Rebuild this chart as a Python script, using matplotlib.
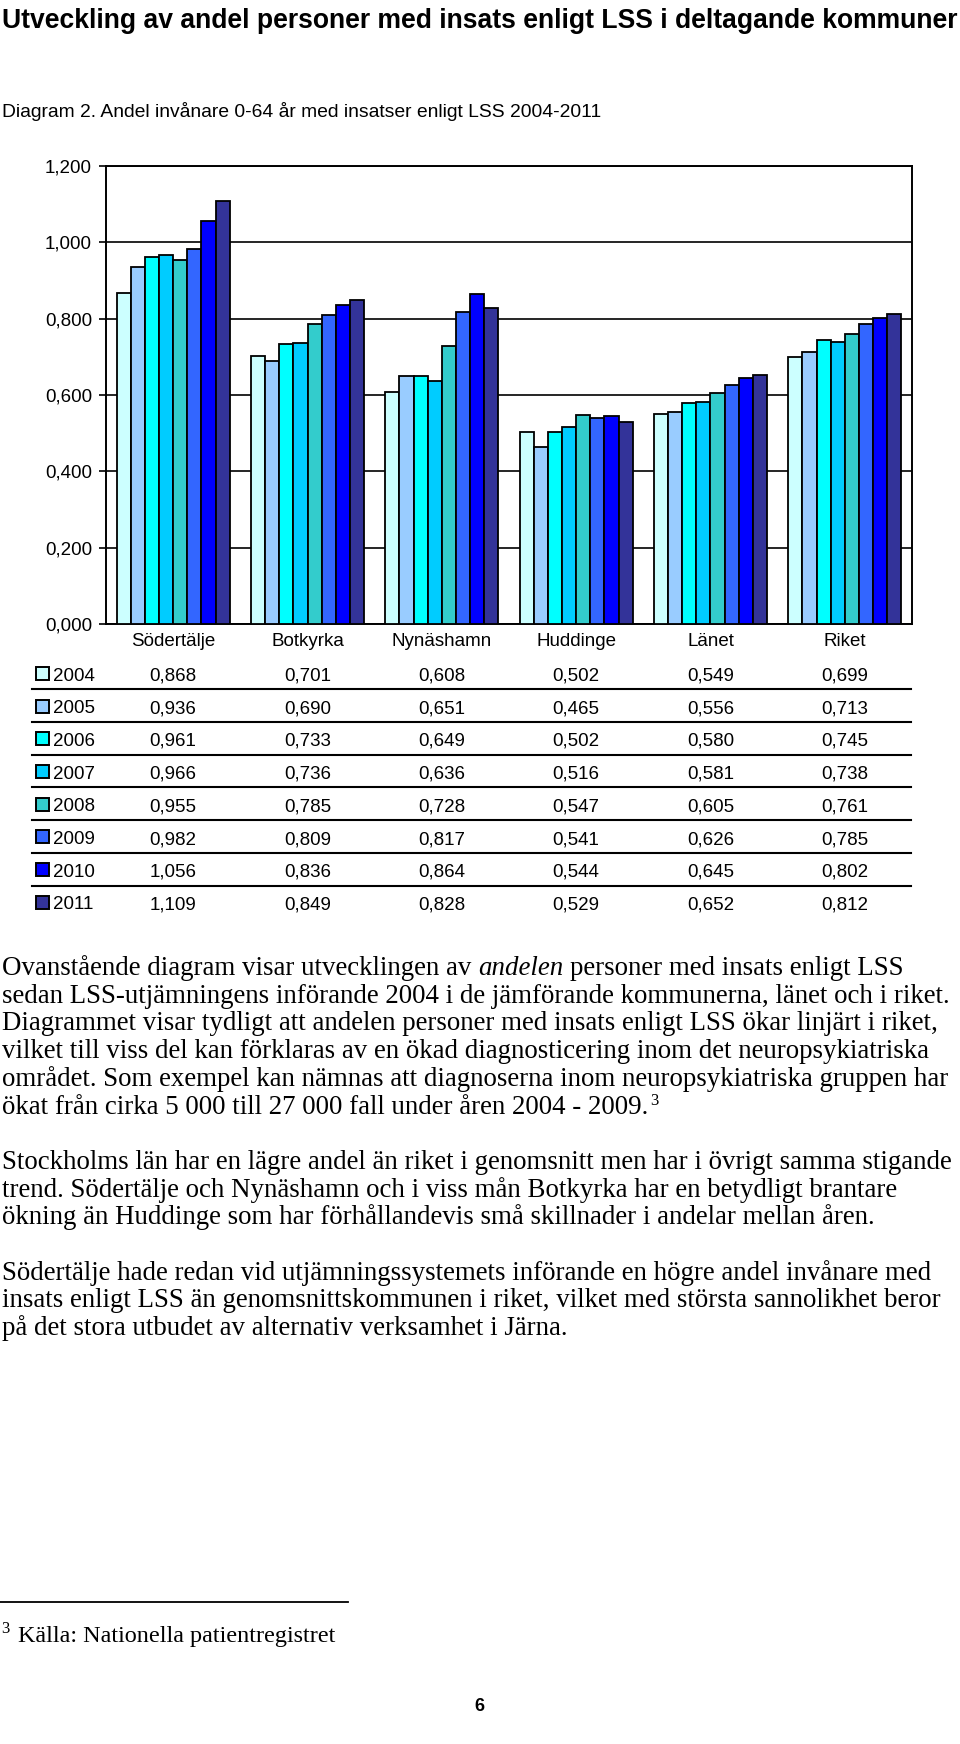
import matplotlib
matplotlib.use('Agg')
import matplotlib.pyplot as plt
from matplotlib.patches import Rectangle
from matplotlib.lines import Line2D
from matplotlib.ticker import FuncFormatter
from matplotlib.transforms import blended_transform_factory
from matplotlib import font_manager
import numpy as np

# ---------------- data ----------------
categories = ['Södertälje', 'Botkyrka', 'Nynäshamn', 'Huddinge', 'Länet', 'Riket']
years = ['2004', '2005', '2006', '2007', '2008', '2009', '2010', '2011']
v2004 = [0.868, 0.701, 0.608, 0.502, 0.549, 0.699]
v2005 = [0.936, 0.690, 0.651, 0.465, 0.556, 0.713]
v2006 = [0.961, 0.733, 0.649, 0.502, 0.580, 0.745]
v2007 = [0.966, 0.736, 0.636, 0.516, 0.581, 0.738]
v2008 = [0.955, 0.785, 0.728, 0.547, 0.605, 0.761]
v2009 = [0.982, 0.809, 0.817, 0.541, 0.626, 0.785]
v2010 = [1.056, 0.836, 0.864, 0.544, 0.645, 0.802]
v2011 = [1.109, 0.849, 0.828, 0.529, 0.652, 0.812]
series = [v2004, v2005, v2006, v2007, v2008, v2009, v2010, v2011]
yticks = [0.0, 0.2, 0.4, 0.6, 0.8, 1.0, 1.2]
colors = ['#CCFFFF', '#99CCFF', '#00FFFF', '#00CCFF', '#33CCCC', '#3366FF', '#0000FF', '#333399']

title = 'Utveckling av andel personer med insats enligt LSS i deltagande kommuner'
subtitle = 'Diagram 2. Andel invånare 0-64 år med insatser enligt LSS 2004-2011'

# body text: each line is a list of (text, style) segments
para_lines = [
    [('Ovanstående diagram visar utvecklingen av', 'normal'), ('andelen', 'italic'),
     ('personer med insats enligt LSS', 'normal')],
    [('sedan LSS-utjämningens införande 2004 i de jämförande kommunerna, länet och i riket.', 'normal')],
    [('Diagrammet visar tydligt att andelen personer med insats enligt LSS ökar linjärt i riket,', 'normal')],
    [('vilket till viss del kan förklaras av en ökad diagnosticering inom det neuropsykiatriska', 'normal')],
    [('området. Som exempel kan nämnas att diagnoserna inom neuropsykiatriska gruppen har', 'normal')],
    [('ökat från cirka 5 000 till 27 000 fall under åren 2004 - 2009.', 'normal'), ('3', 'sup')],
    None,
    [('Stockholms län har en lägre andel än riket i genomsnitt men har i övrigt samma stigande', 'normal')],
    [('trend. Södertälje och Nynäshamn och i viss mån Botkyrka har en betydligt brantare', 'normal')],
    [('ökning än Huddinge som har förhållandevis små skillnader i andelar mellan åren.', 'normal')],
    None,
    [('Södertälje hade redan vid utjämningssystemets införande en högre andel invånare med', 'normal')],
    [('insats enligt LSS än genomsnittskommunen i riket, vilket med största sannolikhet beror', 'normal')],
    [('på det stora utbudet av alternativ verksamhet i Järna.', 'normal')],
]
footnote_mark = '3'
footnote = 'Källa: Nationella patientregistret'
page_no = '6'

# ---------------- figure ----------------
W, H = 960, 1744
SANS = ['Liberation Sans', 'DejaVu Sans']
SERIF = ['Liberation Serif', 'DejaVu Serif']
_names = {f.name for f in font_manager.fontManager.ttflist}
NARROW = (['Liberation Sans Narrow'] if 'Liberation Sans Narrow' in _names else []) + SANS
plt.rcParams['font.family'] = SANS

fig = plt.figure(figsize=(W / 100, H / 100), dpi=100)
renderer = fig.canvas.get_renderer()


def fy(py):
    return 1 - py / H


def fx(px):
    return px / W


def text_width(s, **kw):
    t = fig.text(0, 0, s, **kw)
    w = t.get_window_extent(renderer).width
    t.remove()
    return w


def fit_size(s, target, base=12, **kw):
    return base * target / text_width(s, fontsize=base, **kw)


# ---------------- chart ----------------
ax = fig.add_axes([fx(106), fy(624), fx(912 - 106), (624 - 166) / H])
x = np.arange(len(categories))
bw = 0.1054
for i, vals in enumerate(series):
    ax.bar(x + (i - 3.5) * bw, vals, bw, color=colors[i], edgecolor='black',
           linewidth=1.3, zorder=3)
ax.set_xlim(-0.5, len(categories) - 0.5)
ax.set_ylim(0, 1.2)
ax.set_yticks(yticks)
ax.yaxis.set_major_formatter(FuncFormatter(lambda v, p: f'{v:.3f}'.replace('.', ',')))
ax.set_xticks([])
ax.yaxis.grid(True, color='black', linewidth=1.2, zorder=0)
ax.set_axisbelow(True)
for sp in ax.spines.values():
    sp.set_linewidth(1.4)
    sp.set_color('black')
ax.tick_params(axis='y', direction='out', length=5, width=1.2, pad=5,
               labelsize=13.5, colors='black')
for lab in ax.get_yticklabels():
    lab.set_fontfamily(SANS)

# ---------------- data table ----------------
trans = blended_transform_factory(ax.transData, fig.transFigure)
tsize = 13.5
for j, c in enumerate(categories):
    ax.text(x[j], fy(646), c, transform=trans, ha='center', va='baseline',
            fontsize=tsize, clip_on=False)

row_y = [673 + 32.7 * i for i in range(len(years))]
for i, (yr, vals) in enumerate(zip(years, series)):
    yc = row_y[i]
    fig.add_artist(Rectangle((fx(36), fy(yc + 7)), 13 / W, 13 / H,
                             transform=fig.transFigure, facecolor=colors[i],
                             edgecolor='black', linewidth=1.4))
    fig.text(fx(53), fy(yc + 7.5), yr, ha='left', va='baseline', fontsize=tsize)
    for j, v in enumerate(vals):
        ax.text(x[j], fy(yc + 7.5), f'{v:.3f}'.replace('.', ','), transform=trans,
                ha='center', va='baseline', fontsize=tsize, clip_on=False)
    if i < len(years) - 1:
        yl = yc + 16.3
        fig.add_artist(Line2D([fx(32), fx(911)], [fy(yl), fy(yl)],
                              transform=fig.transFigure, color='black', linewidth=1.5))

# ---------------- title / subtitle ----------------
ts = fit_size(title, 952, fontweight='bold', family=NARROW)
fig.text(fx(2), fy(28), title, ha='left', va='baseline', fontsize=ts,
         fontweight='bold', family=NARROW)
ss = fit_size(subtitle, 598, family=NARROW)
fig.text(fx(2), fy(117), subtitle, ha='left', va='baseline', fontsize=ss, family=NARROW)

# ---------------- body text ----------------
bs = fit_size(para_lines[1][0][0], 947, family=SERIF)
space_w = text_width('a a', fontsize=bs, family=SERIF) - text_width('aa', fontsize=bs, family=SERIF)
base0 = 975
lh = 27.7
for k, line in enumerate(para_lines):
    if line is None:
        continue
    yb = base0 + lh * k
    xp = 2.0
    for n, (seg, style) in enumerate(line):
        if style == 'sup':
            fig.text(fx(xp + 2), fy(yb - 9), seg, ha='left', va='baseline',
                     fontsize=bs * 0.62, family=SERIF)
            continue
        if n > 0:
            xp += space_w
        t = fig.text(fx(xp), fy(yb), seg, ha='left', va='baseline', fontsize=bs,
                     family=SERIF, fontstyle=style)
        xp += t.get_window_extent(renderer).width

# ---------------- footnote ----------------
fig.add_artist(Line2D([fx(0), fx(348)], [fy(1602), fy(1602)],
                      transform=fig.transFigure, color='black', linewidth=1.3))
fig.text(fx(1), fy(1633), footnote_mark, ha='left', va='baseline',
         fontsize=bs * 0.62, family=SERIF)
fs = fit_size(footnote, 315, family=SERIF)
fig.text(fx(18), fy(1642), footnote, ha='left', va='baseline', fontsize=fs, family=SERIF)

fig.text(fx(479), fy(1711), page_no, ha='center', va='baseline', fontsize=13,
         fontweight='bold', family=SANS)

fig.savefig('out.png', dpi=100, facecolor='white')
